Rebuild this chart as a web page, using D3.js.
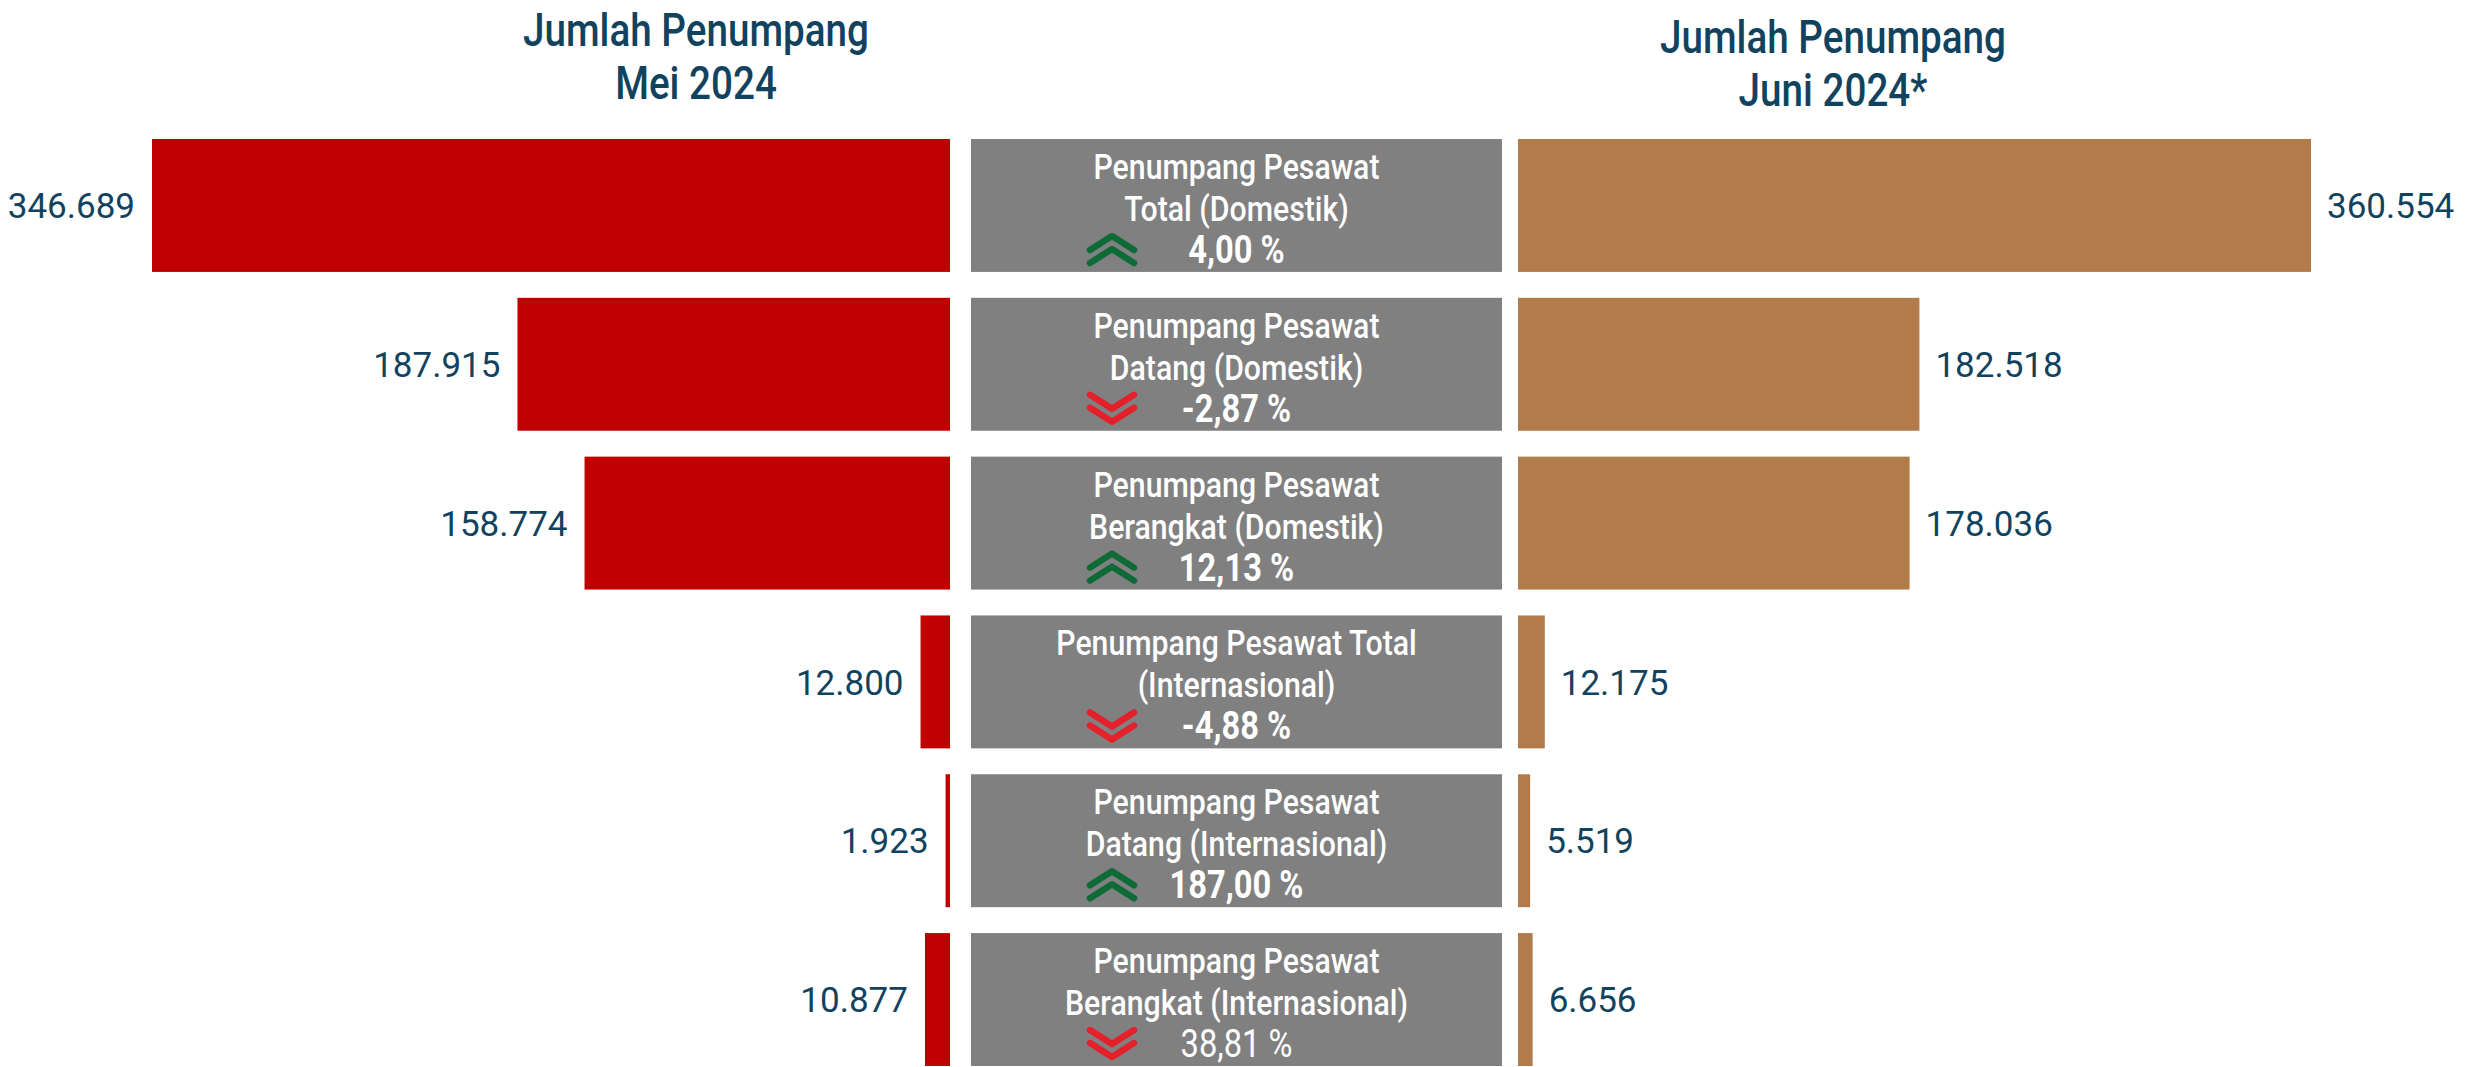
<!DOCTYPE html>
<html>
<head>
<meta charset="utf-8">
<script src="https://cdn.jsdelivr.net/npm/d3@7"></script>
<style>
  html, body { margin: 0; padding: 0; background: #ffffff; }
  svg { display: block; }
</style>
</head>
<body>
<svg id="chart" width="2471" height="1067"></svg>
<script>
// Passenger counts per flight category, May vs June 2024
const categoryLine1 = [
  "Penumpang Pesawat",
  "Penumpang Pesawat",
  "Penumpang Pesawat",
  "Penumpang Pesawat Total",
  "Penumpang Pesawat",
  "Penumpang Pesawat"
];
const categoryLine2 = [
  "Total (Domestik)",
  "Datang (Domestik)",
  "Berangkat (Domestik)",
  "(Internasional)",
  "Datang (Internasional)",
  "Berangkat (Internasional)"
];
const passengersMay = [346689, 187915, 158774, 12800, 1923, 10877];
const passengersJune = [360554, 182518, 178036, 12175, 5519, 6656];
const changePercent = [4.00, -2.87, 12.13, -4.88, 187.00, 38.81];
const titleMay = ["Jumlah Penumpang", "Mei 2024"];
const titleJune = ["Jumlah Penumpang", "Juni 2024*"];

// Styling
const COLOR_MAY = "#C00000";
const COLOR_JUNE = "#B27C4A";
const COLOR_BOX = "#808080";
const COLOR_TEXT = "#11435F";
const COLOR_UP = "#0E6B37";
const COLOR_DOWN = "#E4202B";
const CONDENSED = "Roboto, 'Liberation Sans', sans-serif";  // drawn with a horizontal squeeze
const SQUEEZE = 0.84;
const NUMFONT = "Roboto, 'Liberation Sans', sans-serif";

const idLocale = d3.formatLocale({ decimal: ",", thousands: ".", grouping: [3], currency: ["Rp", ""], minus: "-" });
const fmtCount = idLocale.format(",");
const fmtPct = idLocale.format(".2f");

const svg = d3.select("#chart");
const rows = d3.range(passengersMay.length);

// Layout
const leftEdge = 950, leftMax = 152;
const boxX0 = 971, boxX1 = 1502;
const rightEdge = 1518, rightMax = 2311;

const y = d3.scaleBand().domain(rows).range([139, 1066]).paddingInner(0.163).paddingOuter(0);
const xMay = d3.scaleLinear().domain([0, d3.max(passengersMay)]).range([leftEdge, leftMax]);
const xJune = d3.scaleLinear().domain([0, d3.max(passengersJune)]).range([rightEdge, rightMax]);

// Condensed text helper: places a centred, horizontally squeezed label
function squeezed(sel, x, yPos, squeeze = SQUEEZE) {
  return sel.append("text")
    .attr("transform", `translate(${x},${yPos}) scale(${squeeze},1)`)
    .attr("text-anchor", "middle")
    .attr("font-family", CONDENSED);
}

// Column titles
function drawTitle(lines, cx, baselines) {
  const t = svg.append("g").attr("class", "title");
  lines.forEach((s, i) => {
    squeezed(t, cx, baselines[i])
      .attr("font-size", 46)
      .attr("font-weight", 500)
      .attr("fill", COLOR_TEXT)
      .text(s);
  });
}
drawTitle(titleMay, 696, [46, 99]);
drawTitle(titleJune, 1833, [53, 106]);

// May bars (grow leftwards)
svg.append("g").selectAll("rect").data(rows).join("rect")
  .attr("x", i => xMay(passengersMay[i]))
  .attr("y", i => y(i))
  .attr("width", i => xMay(0) - xMay(passengersMay[i]))
  .attr("height", y.bandwidth())
  .attr("fill", COLOR_MAY);

svg.append("g").selectAll("text").data(rows).join("text")
  .attr("x", i => xMay(passengersMay[i]) - 17)
  .attr("y", i => y(i) + y.bandwidth() / 2)
  .attr("dy", "0.36em")
  .attr("text-anchor", "end")
  .attr("font-family", NUMFONT)
  .attr("font-size", 35)
  .attr("fill", COLOR_TEXT)
  .text(i => fmtCount(passengersMay[i]));

// June bars (grow rightwards)
svg.append("g").selectAll("rect").data(rows).join("rect")
  .attr("x", xJune(0))
  .attr("y", i => y(i))
  .attr("width", i => xJune(passengersJune[i]) - xJune(0))
  .attr("height", y.bandwidth())
  .attr("fill", COLOR_JUNE);

svg.append("g").selectAll("text").data(rows).join("text")
  .attr("x", i => xJune(passengersJune[i]) + 16)
  .attr("y", i => y(i) + y.bandwidth() / 2)
  .attr("dy", "0.36em")
  .attr("text-anchor", "start")
  .attr("font-family", NUMFONT)
  .attr("font-size", 35)
  .attr("fill", COLOR_TEXT)
  .text(i => fmtCount(passengersJune[i]));

// Centre category boxes
const boxCx = (boxX0 + boxX1) / 2;
const box = svg.append("g").selectAll("g").data(rows).join("g")
  .attr("transform", i => `translate(0,${y(i)})`);

box.append("rect")
  .attr("x", boxX0).attr("y", 0)
  .attr("width", boxX1 - boxX0).attr("height", y.bandwidth())
  .attr("fill", COLOR_BOX);

box.each(function (i) {
  const g = d3.select(this);
  squeezed(g, boxCx, 40)
    .attr("font-size", 36)
    .attr("font-weight", 500)
    .attr("fill", "#ffffff")
    .text(categoryLine1[i]);
  squeezed(g, boxCx, 82)
    .attr("font-size", 36)
    .attr("font-weight", 500)
    .attr("fill", "#ffffff")
    .text(categoryLine2[i]);
  squeezed(g, boxCx, 124, 0.86)
    .attr("font-size", 38)
    .attr("font-weight", i === rows.length - 1 ? 400 : 700)
    .attr("fill", "#ffffff")
    .text(fmtPct(changePercent[i]) + " %");
});

// Double chevrons: up when June exceeds May, down otherwise
const chevUp = "M-22,7 L0,-7 L22,7 M-22,20 L0,6 L22,20";
const chevDown = "M-22,-7 L0,7 L22,-7 M-22,6 L0,20 L22,6";
box.append("path")
  .attr("transform", "translate(1112,104)")
  .attr("d", i => passengersJune[i] >= passengersMay[i] ? chevUp : chevDown)
  .attr("fill", "none")
  .attr("stroke", i => passengersJune[i] >= passengersMay[i] ? COLOR_UP : COLOR_DOWN)
  .attr("stroke-width", 6.5)
  .attr("stroke-linecap", "round")
  .attr("stroke-linejoin", "round");
</script>
</body>
</html>
